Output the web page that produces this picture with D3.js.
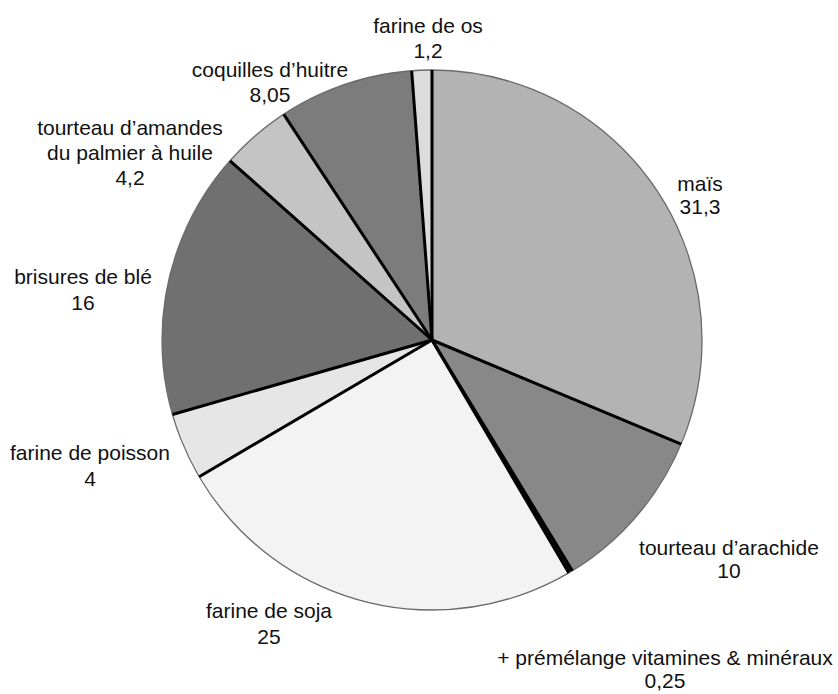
<!DOCTYPE html>
<html>
<head>
<meta charset="utf-8">
<script src="https://cdn.jsdelivr.net/npm/d3@7"></script>
<style>
  html, body { margin: 0; padding: 0; background: #fff; }
  svg { display: block; }
  text { font-family: "Liberation Sans", Arial, sans-serif; font-size: 21px; fill: #111; }
</style>
</head>
<body>
<svg id="chart" width="838" height="694"></svg>
<script>
// Data (clockwise from 12 o'clock)
const categories = ["maïs", "tourteau d’arachide", "+ prémélange vitamines & minéraux", "farine de soja",
  "farine de poisson", "brisures de blé", "tourteau d’amandes\ndu palmier à huile", "coquilles d’huitre", "farine de os"];
const values = [31.3, 10, 0.25, 25, 4, 16, 4.2, 8.05, 1.2];
const valueLabels = ["31,3", "10", "0,25", "25", "4", "16", "4,2", "8,05", "1,2"];
const colors = ["#b3b3b3", "#888888", "#111111", "#f3f3f3", "#e6e6e6", "#707070", "#c4c4c4", "#7c7c7c", "#dcdcdc"];
// label anchor (centre of first line) and line step
const labelPos = [[700, 183], [729, 547], [665, 657], [269, 610], [90, 452], [83, 276], [130, 127], [270, 69], [428, 25]];
const labelStep = [23, 23, 23, 26, 26, 26, 25, 25, 25];

const cx = 432, cy = 340, R = 270;
const svg = d3.select("#chart");
const g = svg.append("g").attr("transform", `translate(${cx},${cy})`);

const data = values.map((v, i) => ({ name: categories[i], value: v, label: valueLabels[i], color: colors[i], pos: labelPos[i], step: labelStep[i] }));
const pie = d3.pie().value(d => d.value).sort(null).startAngle(0).endAngle(2 * Math.PI);
const arcs = pie(data);
const arc = d3.arc().innerRadius(0).outerRadius(R);

g.selectAll("path.slice").data(arcs).join("path")
  .attr("class", "slice")
  .attr("d", arc)
  .attr("fill", d => d.data.color)
  .attr("stroke", "none");

// outer outline
g.append("circle").attr("r", R).attr("fill", "none").attr("stroke", "#6a6a6a").attr("stroke-width", 1.3);

// radial boundary lines
g.selectAll("line.sep").data(arcs).join("line")
  .attr("class", "sep")
  .attr("x1", 0).attr("y1", 0)
  .attr("x2", d => d3.pointRadial(d.startAngle, R)[0])
  .attr("y2", d => d3.pointRadial(d.startAngle, R)[1])
  .attr("stroke", "#000").attr("stroke-width", 3).attr("stroke-linecap", "butt");

// labels
const lab = svg.selectAll("text.lab").data(data).join("text")
  .attr("class", "lab")
  .attr("text-anchor", "middle");
lab.each(function(d) {
  const lines = d.name.split("\n").concat([d.label]);
  const t = d3.select(this);
  lines.forEach((s, i) => {
    t.append("tspan").attr("x", d.pos[0]).attr("y", d.pos[1] + 7.5 + i * d.step).text(s);
  });
});
</script>
</body>
</html>
